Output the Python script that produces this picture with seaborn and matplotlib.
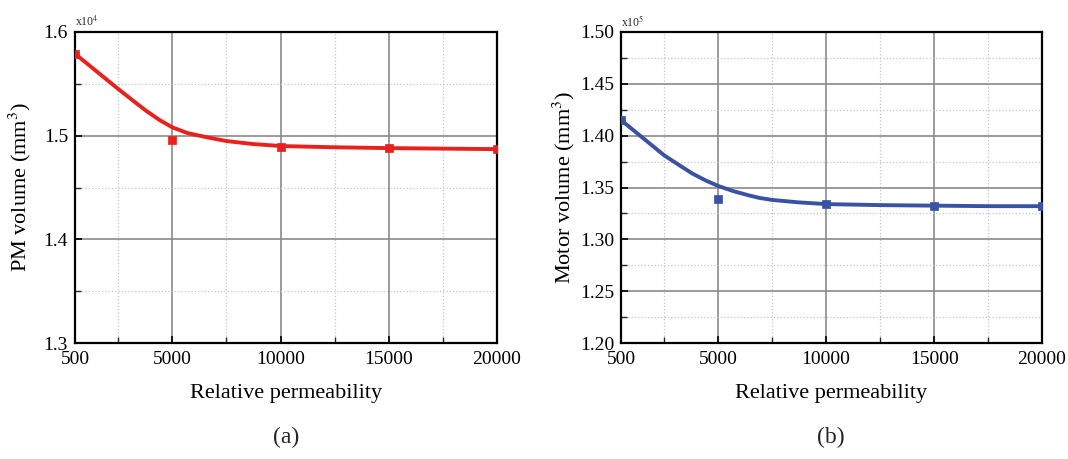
import numpy as np
import pandas as pd
import matplotlib
matplotlib.use('Agg')
import matplotlib.pyplot as plt
import seaborn as sns
from matplotlib.ticker import MultipleLocator, FixedLocator

# measured points (markers)
perm = [500, 5000, 10000, 15000, 20000]
pm_vol = [1.579, 1.496, 1.489, 1.488, 1.487]          # x10^4 mm^3
motor_vol = [1.415, 1.3386, 1.334, 1.3324, 1.332]     # x10^5 mm^3

# fitted curve
curve_perm = [500, 1500, 2500, 3200, 3800, 4400, 5000, 5700, 6400, 6900, 7500, 8700,
              10000, 12500, 15000, 17500, 20000]
pm_curve = [1.579, 1.562, 1.545, 1.5335, 1.5238, 1.5152, 1.508, 1.5025, 1.4993, 1.4972,
            1.4948, 1.492, 1.490, 1.4888, 1.488, 1.4875, 1.487]
motor_curve = [1.415, 1.398, 1.381, 1.3715, 1.3635, 1.357, 1.3515, 1.3465, 1.3425, 1.3400,
               1.338, 1.3357, 1.334, 1.333, 1.3325, 1.332, 1.332]

xticks = [500, 5000, 10000, 15000, 20000]

sns.set_theme(style='white')
plt.rcParams['font.family'] = ['Liberation Serif', 'DejaVu Serif']
plt.rcParams['mathtext.fontset'] = 'stix'

fig = plt.figure(figsize=(10.68, 4.59), dpi=100)
ax1 = fig.add_axes([0.0702, 0.2527, 0.3951, 0.6776])
ax2 = fig.add_axes([0.5815, 0.2527, 0.3942, 0.6776])


def style_axis(ax, ylim, ymajor, yfmt, ylabel, mult, lab_x):
    ax.set_xlim(500, 20000)
    ax.set_ylim(*ylim)
    ax.xaxis.set_major_locator(FixedLocator(xticks))
    ax.xaxis.set_minor_locator(FixedLocator([2500, 7500, 12500, 17500]))
    ax.yaxis.set_major_locator(MultipleLocator(ymajor))
    ax.yaxis.set_minor_locator(MultipleLocator(ymajor / 2))
    ax.set_yticklabels([yfmt.format(v) for v in ax.get_yticks()])
    ax.set_xticklabels([str(v) for v in xticks])
    ax.grid(which='major', color='#8a8a8a', linewidth=1.2, linestyle='-')
    ax.grid(which='minor', color='#c4c4c4', linewidth=0.9, linestyle=':')
    ax.set_axisbelow(True)
    for s in ax.spines.values():
        s.set_color('black')
        s.set_linewidth(1.6)
    ax.tick_params(which='major', direction='in', length=5, width=1.2, labelsize=14,
                   colors='black', left=True, bottom=True, top=False, right=False)
    ax.tick_params(which='minor', direction='in', length=4, width=1.0,
                   left=True, bottom=True, top=False, right=False)
    ax.tick_params(axis='x', which='major', pad=6)
    ax.tick_params(axis='y', which='major', pad=5)
    ax.set_xlabel('Relative permeability', fontsize=16, labelpad=11, color='black')
    ax.set_ylabel(ylabel, fontsize=16, color='black')
    ax.yaxis.set_label_coords(lab_x, 0.5)
    ax.text(0.0, 1.01, mult, transform=ax.transAxes, fontsize=8.5, ha='left', va='bottom')


red = '#e8211d'
blue = '#3a52a3'

sns.lineplot(x=curve_perm, y=pm_curve, ax=ax1, color=red, linewidth=2.8,
             solid_joinstyle='round')
sns.scatterplot(x=perm, y=pm_vol, ax=ax1, color=red, marker='s', s=40, edgecolor=red, zorder=5)
style_axis(ax1, (1.3, 1.6), 0.1, '{:.1f}', r'PM volume (mm$^3$)', r'x10$^4$', -0.1)

sns.lineplot(x=curve_perm, y=motor_curve, ax=ax2, color=blue, linewidth=2.8,
             solid_joinstyle='round')
sns.scatterplot(x=perm, y=motor_vol, ax=ax2, color=blue, marker='s', s=40, edgecolor=blue, zorder=5)
style_axis(ax2, (1.2, 1.5), 0.05, '{:.2f}', r'Motor volume (mm$^3$)', r'x10$^5$', -0.105)

fig.text(0.268, 1 - 437 / 459, '(a)', ha='center', va='center', fontsize=17)
fig.text(0.778, 1 - 437 / 459, '(b)', ha='center', va='center', fontsize=17)

fig.savefig('out.png', dpi=100)
